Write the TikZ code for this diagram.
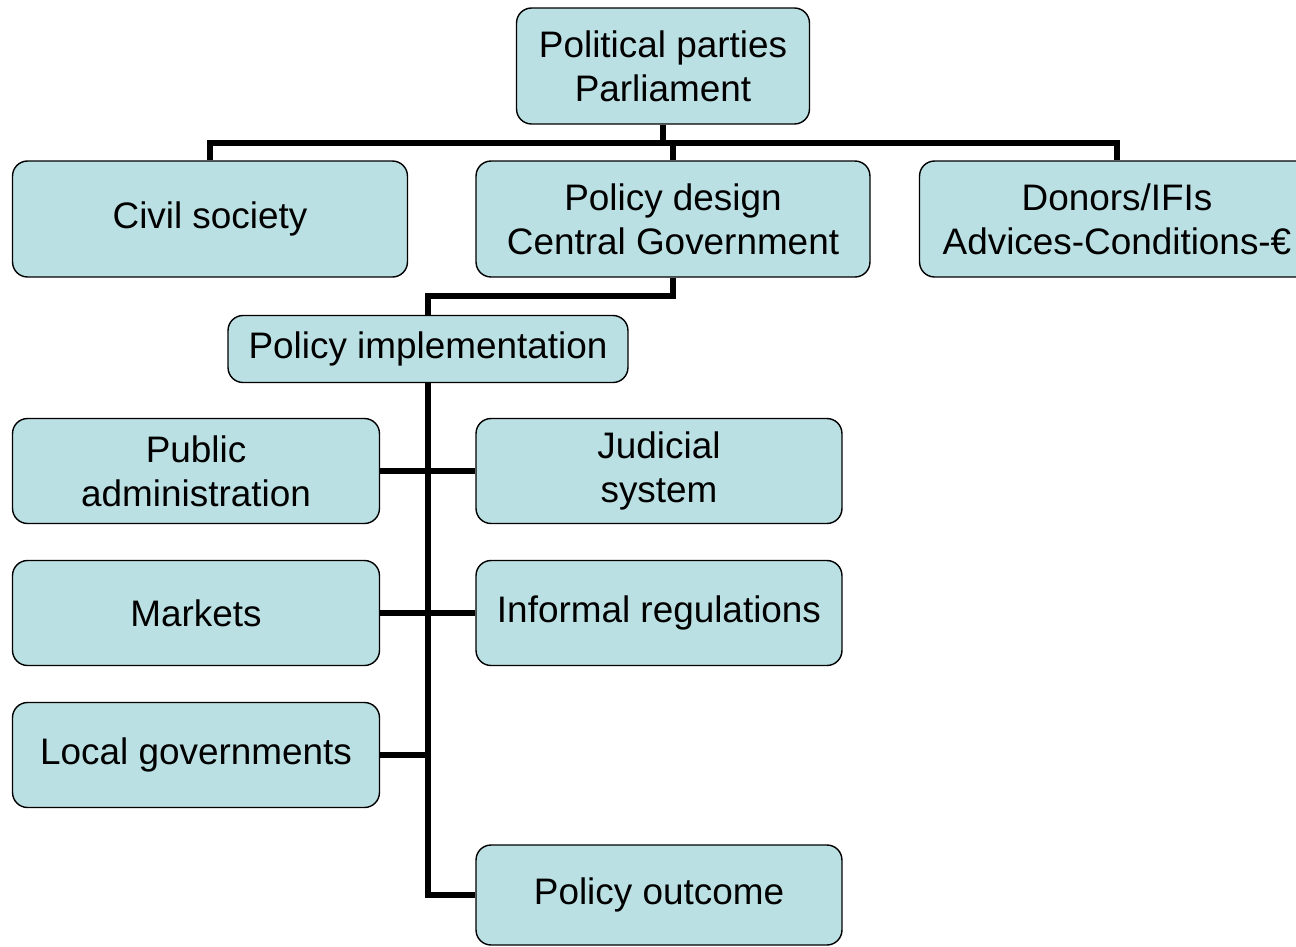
\documentclass[tikz,border=0pt]{standalone}
\usepackage{fontspec}
\setmainfont{Liberation Sans}
\usepackage{xcolor}
\definecolor{boxfill}{HTML}{BBE0E3}
\tikzset{
box/.style={draw=black,fill=boxfill,rounded corners=0.3cm,line width=0.8pt,align=center,
  font=\fontsize{21}{25}\selectfont,inner sep=0pt},
conn/.style={line width=3.4pt}
}

\begin{document}
\begin{tikzpicture}[x=0.02cm,y=-0.02cm]
\useasboundingbox (0,0) rectangle (1296,947);
\clip (0,0) rectangle (1296,947);
% bends of the connectors
\coordinate (bar) at (663,143);
\coordinate (step1) at (673,296);
\node[box,minimum width=5.86cm,minimum height=2.32cm] (parl) at (663,66) {Political parties\\Parliament};
\node[box,minimum width=7.9cm,minimum height=2.32cm] (civil) at (210,219) {Civil society};
\node[box,minimum width=7.88cm,minimum height=2.32cm] (design) at (673,219) {Policy design\\Central Government};
\node[box,minimum width=7.9cm,minimum height=2.32cm] (donors) at (1117,219) {Donors/IFIs\\Advices-Conditions-€};
\node[box,minimum width=8cm,minimum height=1.34cm] (impl) at (428,349) {Policy implementation};
\node[box,minimum width=7.34cm,minimum height=2.1cm] (pubadm) at (196,471) {Public\\administration};
\node[box,minimum width=7.32cm,minimum height=2.1cm] (judicial) at (659,471) {Judicial\\system};
\node[box,minimum width=7.34cm,minimum height=2.1cm] (markets) at (196,613) {Markets};
\node[box,minimum width=7.32cm,minimum height=2.1cm] (informal) at (659,613) {Informal regulations};
\node[box,minimum width=7.34cm,minimum height=2.1cm] (local) at (196,755) {Local governments};
\node[box,minimum width=7.32cm,minimum height=2cm] (outcome) at (659,895) {Policy outcome};
\draw[conn] (parl.south) -- (bar) -| (civil.north);
\draw[conn] (bar) -| (design.north);
\draw[conn] (bar) -| (donors.north);
\draw[conn] (design.south) -- (step1) -| (impl.north);
\draw[conn] (impl.south) |- (outcome.west);
\draw[conn] (pubadm.east) -- (judicial.west);
\draw[conn] (markets.east) -- (informal.west);
\draw[conn] (local.east) -- (local.east -| impl.south);
\end{tikzpicture}
\end{document}
